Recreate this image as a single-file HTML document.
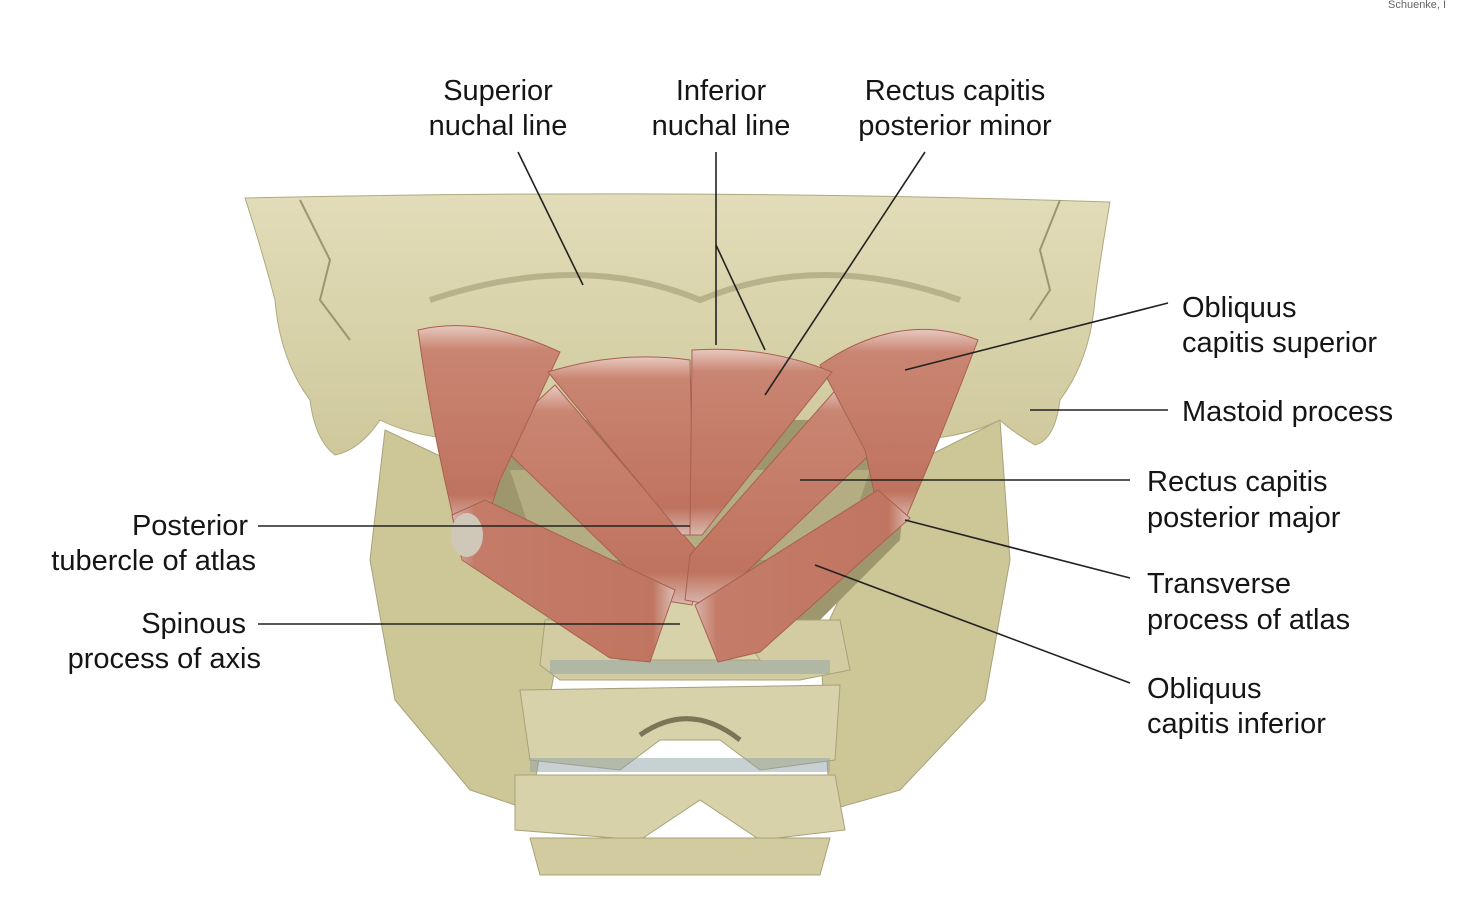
<!DOCTYPE html>
<html><head><meta charset="utf-8"><style>
html,body{margin:0;padding:0;background:#fff;}
svg{display:block;}
text{font-family:"Liberation Sans",Arial,sans-serif;font-size:29px;fill:#151515;}
</style></head><body>
<svg width="1466" height="919" viewBox="0 0 1466 919" xmlns="http://www.w3.org/2000/svg">
<defs>
<linearGradient id="bone" x1="0" y1="0" x2="0" y2="1">
<stop offset="0" stop-color="#e2ddb9"/><stop offset="1" stop-color="#cfc89c"/></linearGradient>
<linearGradient id="ms" x1="0" y1="0" x2="0" y2="1">
<stop offset="0" stop-color="#e8c9c0"/><stop offset="0.12" stop-color="#c98572"/><stop offset="0.85" stop-color="#bf735e"/><stop offset="1" stop-color="#d9b8b0"/></linearGradient>
<linearGradient id="ms2" x1="0" y1="0" x2="1" y2="0">
<stop offset="0" stop-color="#d8b4ab"/><stop offset="0.1" stop-color="#c47c68"/><stop offset="0.9" stop-color="#c07560"/><stop offset="1" stop-color="#dcc0b8"/></linearGradient>
</defs>
<text x="1388" y="8" style="font-size:11px;fill:#666">Schuenke, I</text>

<!-- mandible rami -->
<path d="M385 430 L370 560 L395 700 L470 790 L530 810 L560 640 L470 470 Z" fill="#cdc697" stroke="#a9a27a"/>
<path d="M1000 420 L1010 560 L985 700 L900 790 L830 810 L820 640 L900 470 Z" fill="#cdc697" stroke="#a9a27a"/>
<!-- skull -->
<path d="M245 198 Q680 188 1110 202 Q1100 260 1095 300 Q1090 360 1060 400 Q1055 440 1035 445 Q1010 430 1000 420 Q960 440 900 440 L480 440 Q420 440 380 420 Q360 450 335 455 Q315 440 310 400 Q280 360 275 300 Q262 250 245 198 Z" fill="url(#bone)" stroke="#b0a97f"/>
<path d="M300 200 L330 260 L320 300 L350 340" stroke="#9c9570" fill="none" stroke-width="2"/>
<path d="M1060 200 L1040 250 L1050 290 L1030 320" stroke="#9c9570" fill="none" stroke-width="2"/>
<path d="M430 300 Q580 250 700 300 Q820 250 960 300" stroke="#b8b18a" fill="none" stroke-width="6"/>
<!-- deep region behind muscles -->
<path d="M470 420 L910 420 L900 540 L820 620 L560 620 L480 540 Z" fill="#9e966c"/>
<path d="M510 470 L870 470 L840 560 L540 560 Z" fill="#b5ad82"/>
<!-- vertebrae -->
<path d="M545 620 L840 620 L850 670 L800 680 L560 680 L540 665 Z" fill="#d3cca2" stroke="#a8a17a"/>
<rect x="550" y="660" width="280" height="14" fill="#8fa2a8" opacity="0.5"/>
<path d="M520 690 L840 685 L835 760 L760 770 L720 740 L660 740 L620 770 L530 760 Z" fill="#d8d2aa" stroke="#a8a17a"/>
<rect x="530" y="758" width="300" height="14" fill="#8fa2a8" opacity="0.5"/>
<path d="M515 775 L835 775 L845 830 L760 840 L700 800 L640 840 L515 830 Z" fill="#d8d2aa" stroke="#a8a17a"/>
<path d="M530 838 L830 838 L820 875 L540 875 Z" fill="#d2cba0" stroke="#a8a17a"/>
<path d="M650 600 L720 600 L760 660 L620 660 Z" fill="#d8d2aa" stroke="#a8a17a"/>
<path d="M640 735 Q690 700 740 740" stroke="#7b7558" stroke-width="5" fill="none"/>
<!-- rectus major -->
<path d="M495 440 L555 385 L705 560 L692 605 L660 600 Z" fill="url(#ms)" stroke="#a86050"/>
<path d="M840 385 L885 440 L712 605 L685 600 L690 555 Z" fill="url(#ms)" stroke="#a86050"/>
<!-- obliquus superior -->
<path d="M418 330 Q480 315 560 352 L500 480 L485 525 L455 525 Q430 420 418 330 Z" fill="url(#ms)" stroke="#a86050"/>
<path d="M820 365 Q900 310 978 340 Q940 440 905 520 L880 520 L865 450 Z" fill="url(#ms)" stroke="#a86050"/>
<!-- rectus minor -->
<path d="M548 372 Q620 350 690 360 L694 535 L682 535 Z" fill="url(#ms)" stroke="#a86050"/>
<path d="M692 350 Q765 345 832 372 L702 535 L690 535 Z" fill="url(#ms)" stroke="#a86050"/>
<!-- obliquus inferior -->
<path d="M452 515 L485 500 L675 590 L650 662 L610 658 L462 560 Z" fill="url(#ms2)" stroke="#a86050"/>
<path d="M878 490 L910 518 L760 652 L718 662 L695 605 Z" fill="url(#ms2)" stroke="#a86050"/>
<ellipse cx="467" cy="535" rx="16" ry="22" fill="#cfc7b8"/>

<!-- leader lines -->
<g stroke="#222" stroke-width="1.6" fill="none">
<line x1="518" y1="152" x2="583" y2="285"/>
<line x1="716" y1="152" x2="716" y2="345"/>
<line x1="716" y1="245" x2="765" y2="350"/>
<line x1="925" y1="152" x2="765" y2="395"/>
<line x1="1168" y1="303" x2="905" y2="370"/>
<line x1="1168" y1="410" x2="1030" y2="410"/>
<line x1="1130" y1="480" x2="800" y2="480"/>
<line x1="1130" y1="578" x2="905" y2="520"/>
<line x1="1130" y1="683" x2="815" y2="565"/>
<line x1="258" y1="526" x2="690" y2="526"/>
<line x1="258" y1="624" x2="680" y2="624"/>
</g>

<g text-anchor="middle">
<text x="498" y="100">Superior</text><text x="498" y="135">nuchal line</text>
<text x="721" y="100">Inferior</text><text x="721" y="135">nuchal line</text>
<text x="955" y="100">Rectus capitis</text><text x="955" y="135">posterior minor</text>
</g>
<text x="1182" y="317">Obliquus</text><text x="1182" y="352">capitis superior</text>
<text x="1182" y="421">Mastoid process</text>
<text x="1147" y="491">Rectus capitis</text><text x="1147" y="527">posterior major</text>
<text x="1147" y="593">Transverse</text><text x="1147" y="629">process of atlas</text>
<text x="1147" y="698">Obliquus</text><text x="1147" y="733">capitis inferior</text>
<g text-anchor="end">
<text x="248" y="535">Posterior</text><text x="256" y="570">tubercle of atlas</text>
<text x="246" y="633">Spinous</text><text x="261" y="668">process of axis</text>
</g>
</svg>
</body></html>
